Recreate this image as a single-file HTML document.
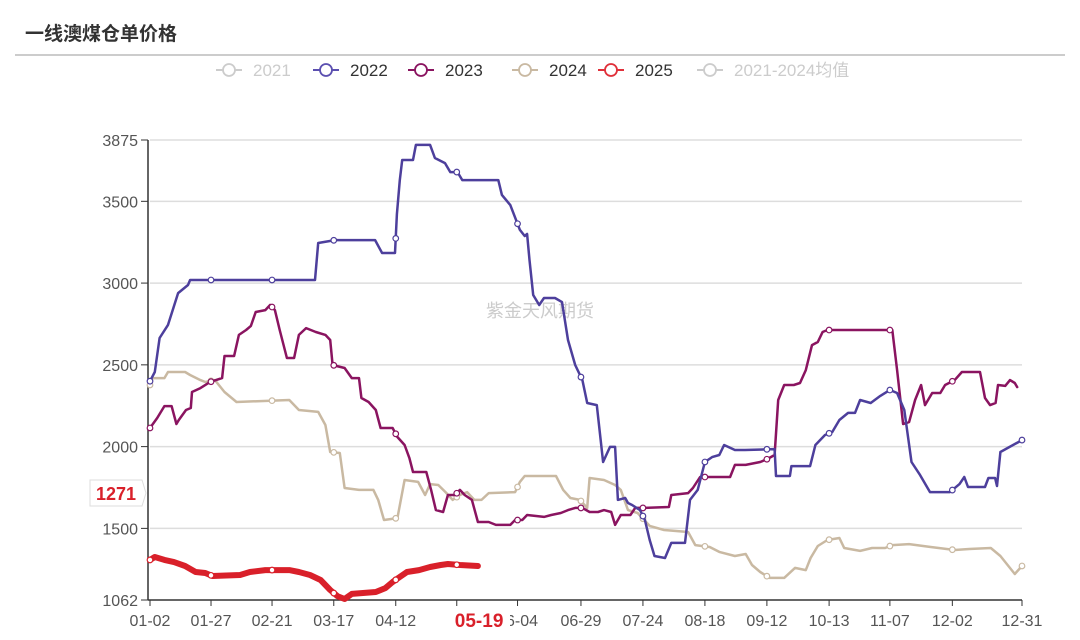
<!DOCTYPE html>
<html><head><meta charset="utf-8"><style>
body{margin:0;background:#fff;width:1080px;height:635px;overflow:hidden;font-family:"Liberation Sans","Noto Sans CJK SC",sans-serif;}
</style></head><body>
<svg id="c" width="1080" height="635" xmlns="http://www.w3.org/2000/svg"></svg>
<script>
const tickLabels=["01-02","01-27","02-21","03-17","04-12","05-07","06-04","06-29","07-24","08-18","09-12","10-13","11-07","12-02","12-31"];
const tickDays=[0,25.4,50.8,76.5,102.3,127.7,153,179.4,205.2,231,256.8,282.7,308,334,363];
const yTicks=[1062,1500,2000,2500,3000,3500,3875];
const d2022=[0,2,4,7.5,11.7,15.8,16.7,68.7,70,77,93.7,96.6,102,102.8,104,105,109.5,110.7,116.6,118.6,122.8,125,128,130,145,146.5,150,154,156,157,158,159.5,162,164,168.6,171.5,174,177,180,182,186,188.6,191.5,193.6,194.8,197.8,199,200.7,204,206,208,210,214.4,217,222.7,224.8,228,231,234,237,239,243.5,247.7,260,260.6,266.4,267,274.8,277,281,284,287,290.6,293.5,295.6,300,304,308,311,314,317,320.6,324.7,333,337,339,340.5,347.6,349,351.8,352.6,354,363];
const v2022=[2400,2456,2664,2744,2939,2988,3019,3019,3245,3263,3263,3184,3184,3422,3630,3753,3753,3845,3845,3765,3734,3679,3679,3630,3630,3539,3477,3325,3288,3300,3141,2927,2866,2909,2909,2884,2652,2499,2407,2267,2254,1906,1998,1998,1674,1686,1655,1643,1612,1551,1429,1331,1319,1411,1411,1674,1735,1906,1936,1949,2010,1979,1979,1985,1820,1820,1881,1881,2010,2071,2089,2163,2206,2206,2285,2267,2310,2346,2328,2224,1906,1826,1722,1722,1771,1814,1753,1753,1808,1808,1759,1967,2040];
const d2023=[0,3,6,9,11,12,15,17,17.5,21,25,30,31,35,37,40,42,44,48,50,52,54,57,60,62,65,69,73,75,76,81,84,87,88,91,94,96,101,103,106,108,109.5,115,117,119,122,124,127,129,131,134,136.5,141,144,150,152,155,157,164,167,171,174,177,180,183,186.5,189,192,193.6,196,200,202,206,216,217,224,226,229,241.5,243.5,248,254,257,260,261.5,264,268,270.6,273,275.6,278,280,282,309,311,313.5,316,318.5,321,322.6,325.6,329,331,335,338,345.5,347.6,349.7,352,353,356,358,360,361];
const v2023=[2114,2175,2248,2248,2138,2163,2224,2236,2334,2358,2395,2419,2554,2554,2683,2713,2738,2823,2835,2866,2835,2713,2542,2542,2683,2725,2701,2683,2652,2499,2481,2419,2419,2297,2273,2224,2114,2114,2059,2010,1930,1845,1845,1735,1612,1600,1704,1704,1735,1704,1674,1539,1539,1521,1521,1551,1551,1582,1570,1582,1594,1612,1625,1625,1600,1600,1612,1600,1521,1582,1582,1625,1625,1631,1704,1716,1747,1814,1814,1888,1888,1906,1924,1949,2285,2377,2377,2389,2468,2621,2640,2701,2713,2713,2468,2138,2150,2285,2377,2254,2328,2328,2377,2407,2456,2456,2297,2254,2267,2377,2371,2407,2389,2364];
const d2024=[0,1,6,7.5,14.6,16.7,21,23,27,31,36,58,62,70,73,75,79,81,87,93,95,97.4,103,106,111.6,114.5,116.6,120,123,126,129,132,135,138,141,152,154,156,169,172,175,179,182,183,189,193.6,196,199,203,208,214,224,227,233,237,243.5,248,250.6,254,258,264,268.5,273,275,278,282,287,289,295.6,300.6,306,309,316,325,335,341,350,354,357,360,363];
const v2024=[2377,2419,2419,2456,2456,2438,2407,2395,2407,2334,2273,2285,2224,2212,2132,1967,1961,1747,1735,1735,1674,1551,1563,1796,1784,1704,1771,1765,1722,1674,1704,1722,1674,1674,1716,1722,1784,1820,1820,1735,1686,1674,1625,1808,1796,1765,1735,1612,1594,1515,1490,1478,1398,1386,1356,1331,1343,1276,1233,1197,1197,1258,1245,1319,1392,1429,1441,1380,1362,1380,1380,1398,1404,1386,1368,1374,1380,1331,1276,1221,1270];
const d2025=[0,2,6,10,14.6,19,23,26,37.5,41.6,48,58,62,66.6,71,75,78,81,84,94,98,101,104,107,112,116.6,121,124,129,136.5];
const v2025=[1307,1325,1307,1294,1270,1233,1227,1209,1215,1233,1245,1245,1233,1215,1184,1123,1086,1068,1099,1111,1135,1172,1203,1233,1245,1264,1276,1282,1276,1270];

const NS="http://www.w3.org/2000/svg";
const svg=document.getElementById('c');
const X0=150,X1=1022,Y0=600,Y1=140,DMAX=363,VMIN=1062,VMAX=3875;
const xs=d=>X0+d*(X1-X0)/DMAX;
const ys=v=>Y0-(v-VMIN)*(Y0-Y1)/(VMAX-VMIN);
function el(t,a,p){const e=document.createElementNS(NS,t);for(const k in a)e.setAttribute(k,a[k]);(p||svg).appendChild(e);return e;}
function tx(s,a){const e=el('text',a);e.textContent=s;return e;}

let e=tx('一线澳煤仓单价格',{x:25,y:40,'font-size':19,'font-weight':'bold',fill:'#333'});

e=el('line',{x1:15,x2:1065,y1:55,y2:55,stroke:'#999','stroke-width':1});


yTicks.forEach(v=>{
  if(v!==VMIN){const g=el('line',{x1:X0,x2:X1,y1:ys(v),y2:ys(v),stroke:'#ddd','stroke-width':1.5});
  }
  const t=tx(String(v),{x:138,y:ys(v)+6,'text-anchor':'end','font-size':16,fill:'#555'});
  
  const k=el('line',{x1:141,x2:148,y1:ys(v),y2:ys(v),stroke:'#333'});
  
});
e=el('line',{x1:148,x2:148,y1:Y1,y2:Y0,stroke:'#333','stroke-width':1.5});

e=el('line',{x1:148,x2:X1,y1:Y0,y2:Y0,stroke:'#333','stroke-width':1.5});

tickDays.forEach((d,i)=>{
  const k=el('line',{x1:xs(d),x2:xs(d),y1:Y0,y2:Y0+6,stroke:'#333'});
  
  if(i===5)return;
  const t=tx(tickLabels[i],{x:xs(d),y:626,'text-anchor':'middle','font-size':16,fill:'#555'});
  
});
e=el('rect',{x:446,y:606,width:64,height:26,fill:'#fff'});

e=tx('05-19',{x:xs(137),y:627,'text-anchor':'middle','font-size':19,'font-weight':'bold',fill:'#d9202a'});


e=tx('紫金天风期货',{x:540,y:317,'text-anchor':'middle','font-size':18,fill:'#ccc'});


function interp(ds,vs,d){if(d<ds[0]||d>ds[ds.length-1])return null;for(let i=1;i<ds.length;i++){if(d<=ds[i]){const t=(d-ds[i-1])/((ds[i]-ds[i-1])||1);return vs[i-1]+t*(vs[i]-vs[i-1]);}}return vs[vs.length-1];}
function series(ds,vs,color,w,name){
  const pts=ds.map((d,i)=>xs(d).toFixed(1)+','+ys(vs[i]).toFixed(1)).join(' ');
  const p=el('polyline',{points:pts,fill:'none',stroke:color,'stroke-width':w,'stroke-linejoin':'round','stroke-linecap':'round'});
  
  tickDays.forEach(td=>{const v=interp(ds,vs,td);if(v===null)return;
    const c=el('circle',{cx:xs(td),cy:ys(v),r:2.8,fill:'#fff',stroke:color,'stroke-width':1.2});
    });
}
series(d2024,v2024,'#c9b9a2',2.5,'series-2024');
series(d2023,v2023,'#8a1460',2.5,'series-2023');
series(d2022,v2022,'#4d3f9c',2.5,'series-2022');
series(d2025,v2025,'#d9202a',6,'series-2025');

e=el('path',{d:'M90,480 H142 L146,493 L142,506 H90 Z',fill:'#fff',stroke:'#ddd'});

e=tx('1271',{x:116,y:500,'text-anchor':'middle','font-size':18,'font-weight':'bold',fill:'#d9202a'});


const legNames=["2021","2022","2023","2024","2025","2021-2024均值"];
const legColors=["#ccc","#5b4fb0","#8a1460","#c9b9a2","#e0303a","#ccc"];
const legX=[216,313,408,512,598,697];
legNames.forEach((n,i)=>{
  const g=el('g',{});
  
  el('line',{x1:legX[i],x2:legX[i]+26,y1:70,y2:70,stroke:legColors[i],'stroke-width':2},g);
  el('circle',{cx:legX[i]+13,cy:70,r:6,fill:'#fff',stroke:legColors[i],'stroke-width':1.8},g);
  const t=document.createElementNS(NS,'text');
  t.setAttribute('x',legX[i]+37);t.setAttribute('y',76);t.setAttribute('font-size',17);
  t.setAttribute('fill',(i===0||i===5)?'#ccc':'#333');t.textContent=n;g.appendChild(t);
});
</script>
</body></html>
